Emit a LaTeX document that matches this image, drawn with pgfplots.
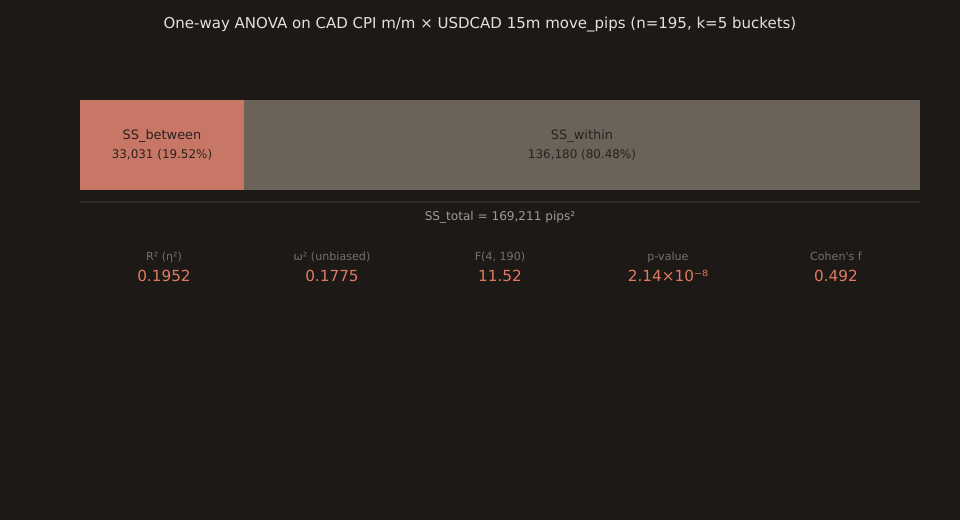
\documentclass[border=0pt]{standalone}
\usepackage{pgfplots}
\pgfplotsset{compat=1.18}
\usepackage{fontspec}
\setmainfont{DejaVu Sans}
\definecolor{bg}{HTML}{1C1917}
\definecolor{between}{HTML}{C87766}
\definecolor{within}{HTML}{6B635A}
\definecolor{titlec}{HTML}{E8E0D8}
\definecolor{inbar}{HTML}{2A211E}
\definecolor{totalc}{HTML}{A39A90}
\definecolor{labc}{HTML}{7A6F66}
\definecolor{valc}{HTML}{E07A62}
\definecolor{rulec}{HTML}{332D2A}

\begin{document}
\begin{tikzpicture}[x=0.72pt,y=0.72pt]
  \fill[bg] (0,0) rectangle (960,520);
  \path[use as bounding box] (0,0) rectangle (960,520);
  \node[text=titlec, font=\fontsize{10.8}{13}\selectfont] at (480,495)
    {One-way ANOVA on CAD CPI m/m × USDCAD 15m move\_pips (n=195, k=5 buckets)};

  \begin{axis}[
    at={(57.6pt,237.6pt)}, anchor=south west,
    scale only axis,
    width=604.8pt, height=64.8pt,
    xmin=0, xmax=169211,
    ymin=-0.5, ymax=0.5,
    hide axis,
    xbar stacked,
    bar width=64.8pt,
    clip=false
    ]
    \addplot[fill=between, draw=none] coordinates {(33031,0)};
    \addplot[fill=within, draw=none] coordinates {(136180,0)};
  \end{axis}

  % labels inside the bars
  \tikzset{fixed/.style={text height=1.6ex, text depth=0.4ex, inner sep=0pt}}
  \node[fixed, text=inbar, font=\fontsize{9.3}{11}\selectfont] at (162,385) {SS\_between};
  \node[fixed, text=inbar, font=\fontsize{8.6}{10}\selectfont] at (162,366.5) {33,031 (19.52\%)};
  \node[fixed, text=inbar, font=\fontsize{9.3}{11}\selectfont] at (582,385) {SS\_within};
  \node[fixed, text=inbar, font=\fontsize{8.6}{10}\selectfont] at (582,366.5) {136,180 (80.48\%)};

  \draw[rulec, line width=1.2pt] (80,318) -- (920,318);
  \node[fixed, text=totalc, font=\fontsize{8.7}{11}\selectfont] at (500,304) {SS\_total = 169,211 pips²};

  \foreach \cx/\lab/\val in {164/{R² (η²)}/0.1952, 332/{ω² (unbiased)}/0.1775,
      500/{F(4, 190)}/11.52, 668/{p-value}/{2.14×10⁻⁸}, 836/{Cohen\textquotesingle s f}/0.492} {
    \node[fixed, text=labc, font=\fontsize{8}{10}\selectfont] at (\cx,264) {\lab};
    \node[fixed, text=valc, font=\fontsize{11}{13}\selectfont] at (\cx,243.5) {\val};
  }
\end{tikzpicture}
\end{document}
